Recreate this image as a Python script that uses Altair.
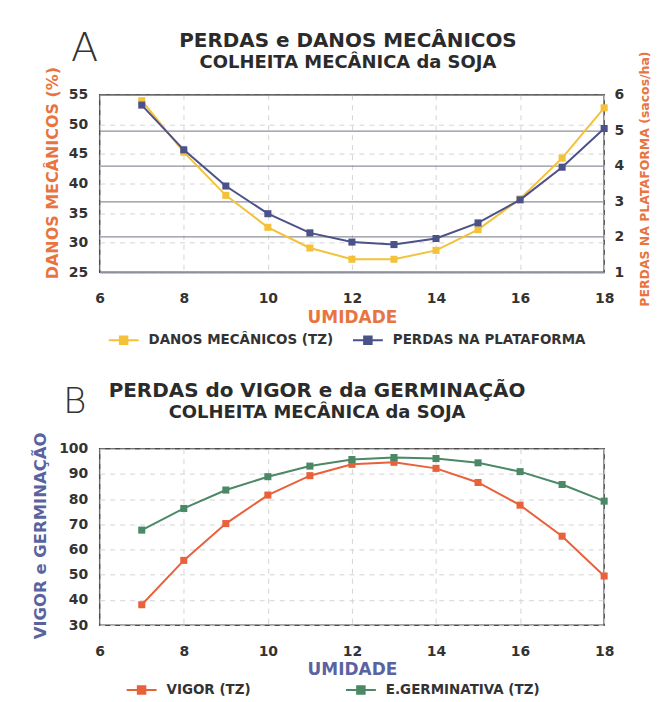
import altair as alt
import pandas as pd

# ---------------- data ----------------
umidade = [7, 8, 9, 10, 11, 12, 13, 14, 15, 16, 17, 18]
danos = [54.0, 45.3, 38.0, 32.6, 29.1, 27.2, 27.2, 28.7, 32.2, 37.4, 44.3, 52.8]
perdas = [5.71, 4.45, 3.43, 2.65, 2.11, 1.85, 1.78, 1.95, 2.39, 3.04, 3.96, 5.05]
vigor = [38.1, 55.7, 70.3, 81.6, 89.3, 93.8, 94.6, 92.2, 86.6, 77.6, 65.3, 49.5]
germinativa = [67.7, 76.3, 83.6, 88.9, 93.1, 95.7, 96.5, 96.1, 94.4, 90.9, 85.8, 79.2]

serie_a = ["DANOS MECÂNICOS (TZ)", "PERDAS NA PLATAFORMA"]
serie_b = ["VIGOR (TZ)", "E.GERMINATIVA (TZ)"]
x_ticks = [6, 8, 10, 12, 14, 16, 18]
left_ticks_a = [25, 30, 35, 40, 45, 50, 55]
right_ticks_a = [1, 2, 3, 4, 5, 6]
left_ticks_b = [30, 40, 50, 60, 70, 80, 90, 100]

FONT = "DejaVu Sans"
TXT = "#333333"
ORANGE = "#e8743f"
BLUE_TXT = "#5a63a0"
YELLOW = "#f3c13a"
NAVY = "#4b5189"
RED = "#e8613a"
GREEN = "#4a8866"

df_danos = pd.DataFrame({"umidade": umidade, "valor": danos, "serie": serie_a[0]})
df_perdas = pd.DataFrame({"umidade": umidade, "valor": perdas, "serie": serie_a[1]})
df_b = pd.concat([
    pd.DataFrame({"umidade": umidade, "valor": vigor, "serie": serie_b[0]}),
    pd.DataFrame({"umidade": umidade, "valor": germinativa, "serie": serie_b[1]}),
])

SYMBOL = ("M-1,0L1,0M-0.25,-0.25L0.25,-0.25L0.25,0.25L-0.25,0.25Z"
          "M-0.25,-0.12L0.25,-0.12M-0.25,0L0.25,0M-0.25,0.12L0.25,0.12")

point_def = alt.OverlayMarkDef(shape="square", size=50, filled=True, opacity=1)

x_enc = alt.X("umidade:Q", scale=alt.Scale(domain=[6, 18], nice=False),
              axis=alt.Axis(values=x_ticks, title="UMIDADE", titleY=45,
                            titleBaseline="middle", titleColor=ORANGE,
                            titleFontSize=17, tickSize=0, labelPadding=19,
                            labelFlush=False,
                            grid=True, gridDash=[5, 5], gridColor="#d4d4d4"))


def legend(x, y, pad):
    return alt.Legend(orient="none", legendX=x, legendY=y, direction="horizontal",
                      title=None, symbolType=SYMBOL, symbolSize=900,
                      symbolStrokeWidth=2, labelFontSize=13.5, labelFont=FONT,
                      labelFontWeight="bold", labelColor=TXT, columnPadding=pad,
                      labelOffset=9, labelLimit=400)


def titulo(main, sub, dx, offset):
    return alt.TitleParams(text=main, subtitle=sub, anchor="middle", frame="group",
                           dx=dx, offset=offset, fontSize=20, subtitleFontSize=18,
                           font=FONT, subtitleFont=FONT, fontWeight="bold",
                           subtitleFontWeight="bold", color="#2b2b2b",
                           subtitleColor="#2b2b2b", subtitlePadding=3)


color_a = alt.Color("serie:N", scale=alt.Scale(domain=serie_a, range=[YELLOW, NAVY]),
                    legend=legend(8, 230, 15))

line_danos = alt.Chart(df_danos).mark_line(strokeWidth=2, point=point_def).encode(
    x=x_enc,
    y=alt.Y("valor:Q", scale=alt.Scale(domain=[25, 55], nice=False),
            axis=alt.Axis(values=left_ticks_a, title="DANOS MECÂNICOS (%)",
                          titleColor=ORANGE, titleFontSize=16, titleX=-47, titleY=78,
                          titleBaseline="middle", tickSize=0, labelPadding=12,
                          grid=True, gridDash=[5, 5], gridColor="#d4d4d4")),
    color=color_a,
)

line_perdas = alt.Chart(df_perdas).mark_line(strokeWidth=2, point=point_def).encode(
    x=x_enc,
    y=alt.Y("valor:Q", scale=alt.Scale(domain=[1, 6], nice=False),
            axis=alt.Axis(orient="right", values=right_ticks_a,
                          title="PERDAS NA PLATAFORMA (sacos/ha)", titleColor=ORANGE,
                          titleFontSize=12.5, titleAngle=270, titleX=40, titleY=84,
                          titleBaseline="middle", tickSize=0, labelPadding=10,
                          grid=True, gridColor="#8d919b", gridWidth=1.3)),
    color=color_a,
)

label_a = alt.Chart(pd.DataFrame({"t": ["A"]})).mark_text(
    fontSize=40, font=FONT, fontWeight=200, color=TXT, align="center", baseline="middle"
).encode(text="t:N", x=alt.value(-15), y=alt.value(-46))

top = alt.layer(line_danos, line_perdas, label_a).resolve_scale(y="independent").properties(
    width=506, height=178,
    title=titulo("PERDAS e DANOS MECÂNICOS", "COLHEITA MECÂNICA da SOJA", -4, -43),
)

x_enc_b = alt.X("umidade:Q", scale=alt.Scale(domain=[6, 18], nice=False),
                axis=alt.Axis(values=x_ticks, title="UMIDADE", titleY=44,
                              titleBaseline="middle", titleColor=BLUE_TXT,
                              titleFontSize=17, tickSize=0, labelPadding=19,
                              labelFlush=False,
                              grid=True, gridDash=[5, 5], gridColor="#d4d4d4"))

lines_b = alt.Chart(df_b).mark_line(strokeWidth=2, point=point_def).encode(
    x=x_enc_b,
    y=alt.Y("valor:Q", scale=alt.Scale(domain=[30, 100], nice=False),
            axis=alt.Axis(values=left_ticks_b, title="VIGOR e GERMINAÇÃO",
                          titleColor=BLUE_TXT, titleFontSize=16.5, titleX=-59, titleY=87,
                          titleBaseline="middle", tickSize=0, labelPadding=12,
                          grid=True, gridDash=[5, 5], gridColor="#d4d4d4")),
    color=alt.Color("serie:N", scale=alt.Scale(domain=serie_b, range=[RED, GREEN]),
                    legend=legend(26, 226, 91)),
)

label_b = alt.Chart(pd.DataFrame({"t": ["B"]})).mark_text(
    fontSize=36, font=FONT, fontWeight=200, color=TXT, align="center", baseline="middle"
).encode(text="t:N", x=alt.value(-25), y=alt.value(-47))

bottom = alt.layer(lines_b, label_b).properties(
    width=506, height=177,
    title=titulo("PERDAS do VIGOR e da GERMINAÇÃO", "COLHEITA MECÂNICA da SOJA", -35, -38),
)

chart = alt.vconcat(top, bottom, spacing=31).resolve_scale(
    color="independent", x="independent"
).properties(
    padding={"left": 24, "top": 19, "right": 0, "bottom": 0},
    background="white",
).configure(font=FONT).configure_axis(
    labelFont=FONT, labelFontSize=14, labelFontWeight="bold", labelColor=TXT,
    titleFont=FONT, titleFontWeight="bold", domain=False,
).configure_view(stroke="#4a4a4a", strokeWidth=1.5)

chart.save("out.html", embed_options={"renderer": "svg", "actions": False})
